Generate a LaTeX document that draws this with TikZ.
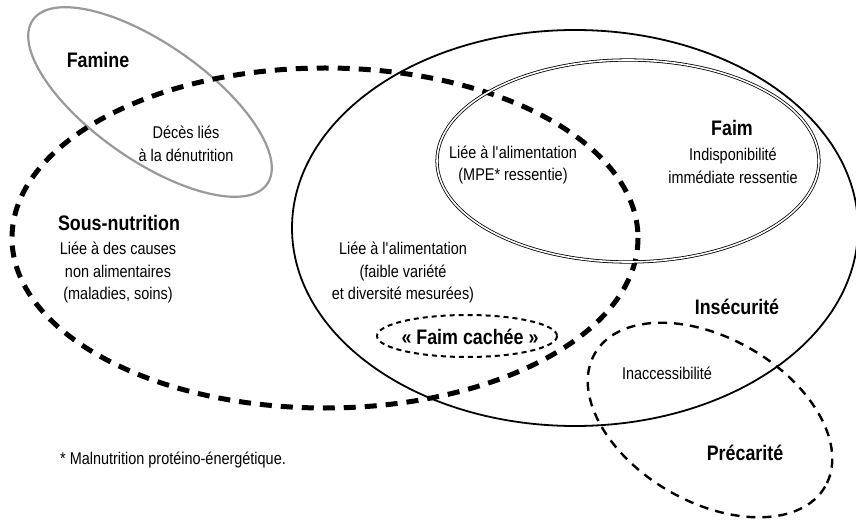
\documentclass[tikz,border=0pt]{standalone}
\usepackage{fontspec}
\setmainfont{Liberation Sans}[FakeStretch=0.85]

\begin{document}
\begin{tikzpicture}[x=1pt, y=-1pt,
  txt/.style={align=center, inner sep=0pt, font=\fontsize{17}{22.5}\selectfont},
  ttl/.style={align=center, inner sep=0pt, font=\fontsize{21}{24}\selectfont\bfseries},
  heavydash/.style={line width=5pt, dash pattern=on 12pt off 9pt},
  lightdash/.style={line width=2.4pt, dash pattern=on 9pt off 7pt},
  dotdash/.style={line width=2pt, dash pattern=on 5pt off 4pt}]
  \useasboundingbox (0,0) rectangle (856,521);
  \clip (0,0) rectangle (856,521);
  \draw[black!40, line width=2.2pt, rotate around={-35:(150,102)}] (150,102) ellipse (143 and 58);
  \draw[heavydash] (325,238) ellipse (313 and 170);
  \draw[line width=1.8pt] (575,228) ellipse (283 and 198);
  \draw[double, line width=0.8pt, double distance=1.6pt] (628,161) ellipse (191 and 101);
  \draw[dotdash] (467,336) ellipse (90 and 21);
  \draw[lightdash, rotate around={-30:(710,420)}] (710,420) ellipse (133 and 82);

  \node[ttl] (famine) at (98,60) {Famine};
  \node[txt] (deces) at (186,144) {Décès liés\\à la dénutrition};
  \node[ttl] (sousnut) at (119,223) {Sous-nutrition};
  \node[txt] (causes) at (118,273) {Liée à des causes\\non alimentaires\\(maladies, soins)};
  \node[txt] (mpe) at (513,165) {Liée à l\textquotesingle alimentation\\(MPE* ressentie)};
  \node[ttl] (faim) at (732,128) {Faim};
  \node[txt] (indispo) at (733,166) {Indisponibilité\\immédiate ressentie};
  \node[txt] (variete) at (403,273) {Liée à l\textquotesingle alimentation\\(faible variété\\et diversité mesurées)};
  \node[ttl] (cachee) at (470,337) {« Faim cachée »};
  \node[ttl] (insecu) at (737,307) {Insécurité};
  \node[txt] (inacc) at (667,373) {Inaccessibilité};
  \node[ttl] (precar) at (745,453) {Précarité};
  \node[txt] (note) at (173,460) {* Malnutrition protéino-énergétique.};
\end{tikzpicture}
\end{document}
